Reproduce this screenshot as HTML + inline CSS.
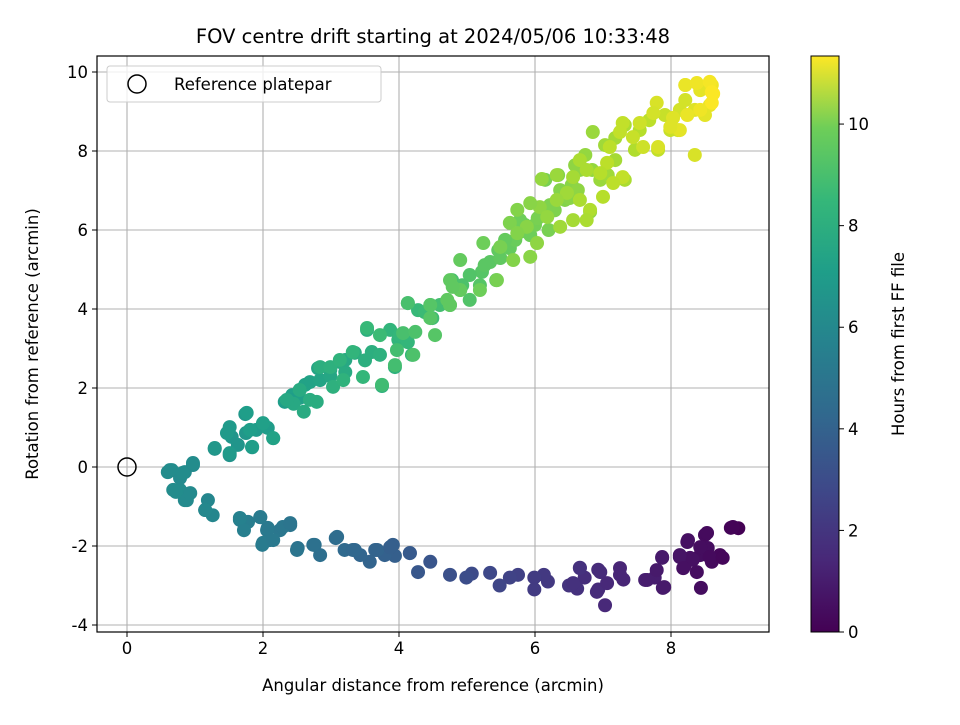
<!DOCTYPE html>
<html><head><meta charset="utf-8"><style>
body{margin:0;background:#fff;font-family:"Liberation Sans","DejaVu Sans",sans-serif}
svg text{font-family:"DejaVu Sans","Liberation Sans",sans-serif}
</style></head><body>
<svg id="chart" width="960" height="720" xmlns="http://www.w3.org/2000/svg">
<defs><linearGradient id="vir" x1="0" y1="1" x2="0" y2="0">
<stop offset="0" stop-color="#440154"/><stop offset="0.125" stop-color="#482878"/><stop offset="0.25" stop-color="#3e4989"/><stop offset="0.375" stop-color="#31688e"/><stop offset="0.5" stop-color="#26828e"/><stop offset="0.625" stop-color="#1f9e89"/><stop offset="0.75" stop-color="#35b779"/><stop offset="0.875" stop-color="#6ece58"/><stop offset="1" stop-color="#fde725"/></linearGradient></defs>
<rect width="960" height="720" fill="#fff"/>
<g id="grid"></g><g id="pts"></g><g id="axes"></g>
<text x="433" y="43" font-size="19.5" text-anchor="middle">FOV centre drift starting at 2024/05/06 10:33:48</text>
<text x="433" y="691" font-size="16.5" text-anchor="middle">Angular distance from reference (arcmin)</text>
<text transform="translate(38,344) rotate(-90)" font-size="16.5" text-anchor="middle">Rotation from reference (arcmin)</text>
<g>
<rect x="107" y="66" width="274" height="36" rx="3" fill="#fff" fill-opacity="0.8" stroke="#ccc"/>
<circle cx="137" cy="84" r="9" fill="none" stroke="#000" stroke-width="1.5"/>
<text x="174" y="90" font-size="16.5">Reference platepar</text></g>
<rect x="811" y="56" width="28" height="576" fill="url(#vir)" stroke="#000" stroke-width="1"/>
<g id="cbax"></g>
<text transform="translate(904,344) rotate(-90)" font-size="16.5" text-anchor="middle">Hours from first FF file</text>
</svg>
<script>
const xs=[8.99,8.88,8.25,8.5,8.54,8.43,8.28,8.13,8.72,8.6,8.2,8.44,7.87,7.9,7.76,7.62,7.25,7.3,7.03,6.93,6.93,6.73,6.66,6.62,6.5,6.19,6.13,5.99,5.99,5.75,5.63,5.48,5.34,5.07,4.99,4.75,4.46,4.28,4.16,3.94,3.91,3.79,3.65,3.57,3.43,3.35,3.2,3.07,2.84,2.76,2.51,2.4,2.25,2.07,2.1,1.99,1.96,1.78,1.66,1.72,1.26,1.19,1.15,0.85,0.78,0.72,0.97,0.85,0.66,0.6,0.78,
1.29,1.51,1.54,1.63,1.75,1.74,1.84,1.9,2.0,2.07,2.15,2.32,2.43,2.54,2.62,2.69,2.81,2.84,2.99,3.13,3.21,3.35,3.5,3.75,3.53,3.6,3.72,3.94,3.99,4.13,4.19,4.13,4.28,4.38,4.49,4.6,4.75,4.78,4.9,5.04,5.19,5.22,5.34,5.43,5.49,5.63,5.71,5.78,5.85,5.93,6.0,6.1,6.2,6.29,6.15,6.34,6.44,6.51,6.54,6.63,6.81,6.66,6.84,6.96,7.07,7.18,7.32,6.85,7.32,7.47,7.54,7.68,7.81,7.91,7.99,8.1,8.13,8.21,8.35,8.35,8.43,8.6,8.57,8.62,8.5,8.21,7.18,7.03,6.74,6.59,6.37,6.22,6.04,5.78,5.56,5.46,5.26,5.04,4.93,4.46,3.87,4.01,3.21,2.99,2.54,2.4,
8.21,8.38,8.57,8.6,8.6,8.43,8.24,8.03,8.13,7.99,7.79,7.74,7.54,7.44,7.29,7.25,7.59,7.81,7.1,6.66,7.06,6.96,7.29,7.15,6.76,6.56,6.32,6.1,6.47,6.66,7.0,6.81,6.32,6.07,5.93,5.74,5.63,5.88,6.18,6.37,6.56,6.76,6.03,5.74,5.49,5.24,5.68,5.93,5.44,5.19,4.9,4.75,4.9,4.71,
8.91,8.24,8.53,8.43,8.13,8.57,8.76,8.32,8.18,8.38,6.66,6.56,6.96,7.06,7.25,6.91,7.65,7.79,7.88,7.87,
1.66,1.96,2.06,2.29,2.4,2.0,2.15,2.5,2.74,3.09,3.32,3.68,3.87,4.16,0.88,0.68,0.93,0.63,0.82,0.97,1.15,
1.76,1.51,1.81,2.0,2.15,1.29,1.51,1.84,2.45,
1.47,2.35,2.54,2.69,2.6,2.79,2.84,2.99,3.13,3.03,3.18,3.32,3.47,3.75,3.53,3.72,3.94,3.97,4.21,4.06,4.24,4.53,4.13,4.46,4.75,4.46,4.79];
const ys=[-1.55,-1.54,-1.85,-1.72,-2.05,-2.23,-2.3,-2.23,-2.23,-2.4,-2.5,-3.06,-2.3,-3.04,-2.8,-2.86,-2.73,-2.85,-3.5,-2.6,-3.1,-2.8,-2.55,-3.08,-3.0,-2.9,-2.73,-2.8,-3.1,-2.73,-2.8,-3.0,-2.68,-2.7,-2.8,-2.73,-2.4,-2.66,-2.18,-2.25,-1.97,-2.23,-2.1,-2.4,-2.23,-2.1,-2.1,-1.8,-2.23,-1.97,-2.05,-1.47,-1.6,-1.54,-1.85,-1.97,-1.27,-1.39,-1.34,-1.6,-1.22,-0.84,-1.09,-0.84,-0.58,-0.63,0.05,-0.13,-0.08,-0.13,-0.28,
0.46,0.3,0.76,0.56,0.86,1.34,0.5,0.94,1.09,0.99,0.73,1.65,1.82,1.75,2.08,2.15,2.5,2.2,2.46,2.66,2.4,2.89,2.7,2.05,3.47,2.91,2.84,2.53,3.22,3.16,2.84,4.15,3.97,3.92,3.77,4.1,4.1,4.73,4.48,4.23,4.6,4.94,5.19,4.73,5.29,5.54,5.75,5.95,6.13,5.87,6.13,6.46,6.0,6.5,7.27,7.39,6.76,6.81,7.14,7.01,6.46,7.52,7.52,7.27,7.39,7.77,7.27,8.48,8.66,8.03,8.53,8.78,8.03,8.91,8.53,8.53,9.04,9.29,7.9,9.04,9.54,9.67,9.16,9.45,8.91,9.67,8.33,8.15,7.9,7.64,7.01,6.63,6.3,6.25,5.75,5.49,5.11,4.86,4.6,4.1,3.47,3.34,2.71,2.3,1.95,1.7,
9.67,9.72,9.75,9.49,9.22,9.04,8.91,8.84,8.53,8.61,9.22,8.96,8.71,8.35,8.71,8.48,8.1,8.1,8.1,7.77,7.7,7.44,7.34,7.19,7.52,7.34,7.39,7.29,6.94,6.76,6.84,6.51,6.76,6.58,6.68,6.51,6.18,6.08,6.33,6.08,6.25,6.25,5.67,5.92,5.57,5.67,5.24,5.32,4.73,4.48,5.24,4.73,4.48,4.23,
-1.52,-1.9,-1.67,-2.03,-2.28,-2.28,-2.3,-2.35,-2.56,-2.66,-2.56,-2.94,-2.66,-2.94,-2.56,-3.16,-2.86,-2.61,-3.06,-2.28,
-1.29,-1.27,-1.6,-1.52,-1.42,-1.92,-1.85,-2.1,-1.97,-1.77,-2.1,-2.1,-2.03,-2.18,-0.84,-0.58,-0.66,-0.08,-0.15,0.1,-1.09,
1.37,1.01,0.94,1.11,0.73,0.48,0.35,0.51,1.6,
0.86,1.7,1.95,1.7,1.4,1.65,2.53,2.53,2.71,2.03,2.2,2.91,2.28,2.08,3.52,3.34,2.58,2.96,2.84,3.39,3.42,3.34,4.15,4.1,4.1,3.77,4.56];
const hs=[0.0,0.1,0.5,0.3,0.4,0.4,0.5,0.6,0.2,0.3,0.5,0.4,0.8,0.8,0.9,1.0,1.2,1.2,1.3,1.4,1.4,1.5,1.6,1.6,1.7,1.9,1.9,2.0,2.0,2.2,2.3,2.4,2.5,2.6,2.7,2.8,3.0,3.1,3.2,3.4,3.4,3.5,3.6,3.6,3.7,3.8,3.9,4.0,4.1,4.2,4.3,4.4,4.5,4.6,4.6,4.7,4.7,4.8,4.9,4.9,5.2,5.2,5.2,5.4,5.5,5.5,5.4,5.4,5.5,5.5,5.4,
5.7,5.8,5.9,5.9,6.0,6.0,6.0,6.1,6.1,6.2,6.2,6.3,6.4,6.4,6.5,6.5,6.6,6.6,6.7,6.8,6.9,7.0,7.1,7.2,7.1,7.1,7.2,7.3,7.4,7.5,7.5,7.5,7.6,7.7,7.8,7.9,8.0,8.0,8.1,8.2,8.3,8.3,8.4,8.4,8.5,8.6,8.7,8.7,8.8,8.8,8.9,8.9,9.0,9.1,9.0,9.2,9.2,9.3,9.3,9.4,9.5,9.4,9.5,9.6,9.7,9.8,9.9,9.6,9.9,10.0,10.1,10.2,10.3,10.4,10.4,10.5,10.6,10.6,10.7,10.8,10.9,11.1,11.0,11.3,10.9,10.9,9.8,9.7,9.5,9.4,9.2,9.1,9.0,8.8,8.6,8.5,8.4,8.2,8.1,7.8,7.4,7.5,6.8,6.7,6.4,6.3,
11.0,11.1,11.2,11.3,11.3,11.1,11.0,10.8,10.9,10.8,10.7,10.6,10.5,10.4,10.3,10.3,10.5,10.7,10.2,9.9,10.2,10.1,10.3,10.2,9.9,9.8,9.6,9.5,9.7,9.9,10.1,10.0,9.6,9.4,9.3,9.2,9.1,9.3,9.5,9.7,9.8,9.9,9.4,9.2,9.0,8.8,9.2,9.3,9.0,8.8,8.6,8.5,8.6,8.5,
0.1,0.5,0.3,0.4,0.6,0.3,0.2,0.5,0.5,0.4,1.6,1.6,1.4,1.3,1.2,1.4,0.9,0.8,0.8,0.8,
5.0,4.7,4.6,4.5,4.4,4.7,4.6,4.4,4.2,4.0,3.8,3.6,3.4,3.2,5.4,5.5,5.4,5.5,5.5,5.5,5.3,
6.3,6.1,6.3,6.4,6.5,6.0,6.1,6.3,6.8,
6.1,6.8,6.9,7.0,6.9,7.0,7.1,7.2,7.3,7.2,7.3,7.4,7.5,7.8,7.6,7.7,7.9,7.9,8.1,8.0,8.1,8.3,8.0,8.3,8.5,8.3,8.5];
const xTicks=[0,2,4,6,8], yTicks=[-4,-2,0,2,4,6,8,10], cTicks=[0,2,4,6,8,10];
const L=97,R=769,T=56,B=632,HMAX=11.34;
const sx=v=>127+v*68, sy=v=>467-v*39.5, sc=v=>632-v*(576/HMAX);
const vir=[[68,1,84],[72,40,120],[62,73,137],[49,104,142],[38,130,142],[31,158,137],[53,183,121],[110,206,88],[181,222,43],[253,231,37]];
function col(h){let t=Math.max(0,Math.min(1,h/HMAX))*(vir.length-1);let i=Math.min(vir.length-2,Math.floor(t)),f=t-i;const c=vir[i].map((a,k)=>Math.round(a+(vir[i+1][k]-a)*f));return `rgb(${c})`;}
const NS='http://www.w3.org/2000/svg';
function mk(tag,at,p){const e=document.createElementNS(NS,tag);for(const k in at)e.setAttribute(k,at[k]);p.appendChild(e);return e;}
const grid=document.getElementById('grid'),ax=document.getElementById('axes'),pts=document.getElementById('pts'),cb=document.getElementById('cbax');
xTicks.forEach(v=>{const X=sx(v);
const g=mk('line',{x1:X,x2:X,y1:T,y2:B,stroke:'#b0b0b0','stroke-width':1.1},grid);


mk('line',{x1:X,x2:X,y1:B,y2:B+5,stroke:'#000'},ax);
const t=mk('text',{x:X,y:B+22,'font-size':16.5,'text-anchor':'middle'},ax);t.textContent=v;

});
yTicks.forEach(v=>{const Y=sy(v);
const g=mk('line',{x1:L,x2:R,y1:Y,y2:Y,stroke:'#b0b0b0','stroke-width':1.1},grid);


mk('line',{x1:L-5,x2:L,y1:Y,y2:Y,stroke:'#000'},ax);
const t=mk('text',{x:L-9,y:Y+6,'font-size':16.5,'text-anchor':'end'},ax);t.textContent=v;

});
xs.forEach((x,i)=>{const c=mk('circle',{cx:sx(x),cy:sy(ys[i]),r:7,fill:col(hs[i])},pts);

});
const ref=mk('circle',{cx:sx(0),cy:sy(0),r:9,fill:'none',stroke:'#000','stroke-width':1.5},pts);


const fr=mk('rect',{x:L,y:T,width:R-L,height:B-T,fill:'none',stroke:'#000','stroke-width':1.2},ax);


cTicks.forEach(v=>{const Y=sc(v);
mk('line',{x1:839,x2:844,y1:Y,y2:Y,stroke:'#000'},cb);
const t=mk('text',{x:848,y:Y+6,'font-size':16.5},cb);t.textContent=v;

});
</script>
</body></html>
